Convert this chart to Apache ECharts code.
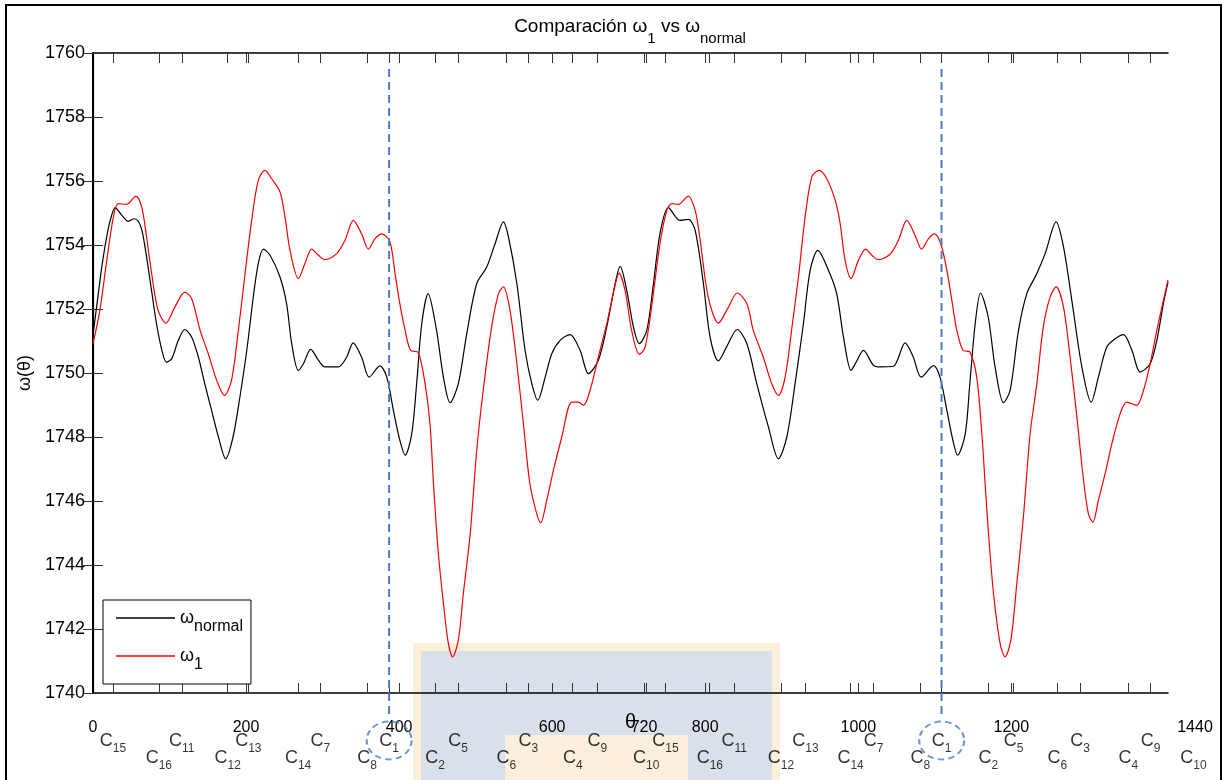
<!DOCTYPE html>
<html>
<head>
<meta charset="utf-8">
<title>Comparación ω1 vs ωnormal</title>
<script src="https://cdn.jsdelivr.net/npm/echarts@6.0.0/dist/echarts.min.js"></script>
<style>
  html, body { margin: 0; padding: 0; background: #fff; }
  #chart { width: 1225px; height: 780px; }
</style>
</head>
<body>
<div id="chart"></div>
<script>
  // ω normal (black)
  var normalTheta = [0, 6, 12, 19, 24, 29, 37, 46, 54, 59, 64, 70, 76.5, 83, 90, 96, 103, 111.5, 120, 129,
    137.7, 146, 155, 164, 173.4, 183, 192, 201, 209.5, 216, 222.7, 231.4, 244.4, 253, 259.7, 268.4, 275, 284.5, 294.6, 303,
    320.7, 331.6, 340, 351, 361, 375, 384, 392.6, 401, 408, 416.6, 423, 429.7, 438, 449, 458, 466.7, 477.5, 488.5, 501.5,
    514.6, 525.5, 536.4, 543, 554, 564.7, 573.5, 581.3, 591, 599.6, 610.5, 623.5, 636.6, 647.5, 660.5, 671.5, 682.4, 689, 697.6, 706.3,
    714, 723.8, 732.5, 741, 752, 767, 778, 787, 797.8, 806.5, 817.4, 828, 842, 854.5, 867.5, 882.8, 895.8, 906.8, 917.6, 928.5,
    937.3, 947.3, 961.2, 972, 980.8, 990.8, 997.4, 1007, 1020, 1028.8, 1046, 1061.4, 1072, 1082.4, 1098.5, 1107, 1116, 1123.8, 1130, 1140,
    1146, 1153, 1160, 1170, 1179, 1190, 1198.7, 1209.6, 1220.5, 1233.6, 1244.4, 1258.8, 1268.4, 1279.3, 1292.4, 1304.6, 1314, 1325, 1336, 1346.8,
    1357.8, 1368.6, 1381.7, 1390.4, 1399, 1405];
  var normalOmega = [1751.2, 1752.3, 1753.4, 1754.4, 1754.9, 1755.17, 1754.95, 1754.74, 1754.82, 1754.75, 1754.46, 1753.63, 1752.58, 1751.54, 1750.71, 1750.34, 1750.45, 1751.02, 1751.36, 1751.12,
    1750.5, 1749.67, 1748.83, 1748.0, 1747.32, 1748.0, 1749.25, 1750.71, 1752.38, 1753.42, 1753.87, 1753.68, 1753.0, 1752.17, 1750.92, 1750.08, 1750.29, 1750.74, 1750.4, 1750.19,
    1750.19, 1750.5, 1750.94, 1750.5, 1749.87, 1750.22, 1749.87, 1748.83, 1747.9, 1747.43, 1748.1, 1749.67, 1751.54, 1752.48, 1751.33, 1749.87, 1749.07, 1749.67, 1751.23, 1752.79,
    1753.31, 1754.04, 1754.72, 1754.25, 1752.79, 1750.71, 1749.67, 1749.15, 1749.87, 1750.6, 1751.02, 1751.2, 1750.71, 1749.98, 1750.4, 1751.44, 1752.79, 1753.33, 1752.58, 1751.44,
    1750.92, 1751.33, 1752.79, 1754.35, 1755.17, 1754.77, 1754.8, 1754.46, 1752.79, 1751.13, 1750.38, 1750.81, 1751.36, 1750.92, 1749.67, 1748.31, 1747.32, 1748.0, 1749.67, 1751.54,
    1753.21, 1753.83, 1753.21, 1752.48, 1751.13, 1750.08, 1750.34, 1750.71, 1750.24, 1750.19, 1750.21, 1750.94, 1750.5, 1749.87, 1750.23, 1749.87, 1748.83, 1747.9, 1747.43, 1748.1,
    1749.67, 1751.54, 1752.5, 1751.75, 1750.19, 1749.07, 1749.46, 1751.33, 1752.48, 1753.11, 1753.73, 1754.72, 1753.94, 1752.27, 1750.19, 1749.09, 1749.87, 1750.81, 1751.07, 1751.2,
    1750.71, 1750.03, 1750.29, 1751.02, 1752.17, 1752.84];

  // ω1 (red)
  var w1Theta = [0, 9, 18, 26.6, 33, 44, 56, 63.6, 70, 76.7, 85, 95.4, 107, 120, 129, 140, 150.7, 161.7, 171.7, 181,
    190, 198.7, 207.4, 216, 224.8, 233.6, 244.4, 251, 257.5, 268.4, 277, 285.8, 294.6, 303, 318.5, 329.4, 340.3, 351, 360, 368.6,
    377.4, 388, 394.8, 401, 408, 415, 425, 434, 440.5, 445, 451, 458, 464.5, 470, 477.5, 484, 493, 501.5, 510, 521,
    530, 536.4, 545, 554, 562.5, 571, 580, 585, 593, 601.7, 612.7, 625.7, 634.4, 641, 649.7, 660.5, 671.5, 680, 687.6, 695.4,
    704, 714, 721.6, 730, 741, 750, 756.5, 765, 778, 787, 793, 804, 817.4, 830.5, 842, 854.5, 863, 876, 887, 895.8,
    904.6, 913, 922, 930.7, 939.5, 949, 959, 970, 976.5, 983, 990.8, 1000.4, 1010, 1017.9, 1026.5, 1041.8, 1052.7, 1063.6, 1074.5, 1083,
    1092, 1099.8, 1108, 1116, 1122.5, 1129, 1137, 1146, 1155, 1161.7, 1166, 1170.4, 1177, 1185.6, 1192, 1199.6, 1207.4, 1216, 1224.8, 1233.6,
    1242, 1251, 1258.8, 1268.4, 1277, 1285.9, 1294.6, 1301, 1306.8, 1314, 1322.9, 1331.6, 1342.5, 1351, 1364, 1373, 1381.7, 1390.4, 1399, 1405];
  var w1Omega = [1750.92, 1751.96, 1753.52, 1754.87, 1755.29, 1755.27, 1755.53, 1755.19, 1754.25, 1753.1, 1751.96, 1751.56, 1752.06, 1752.53, 1752.32, 1751.33, 1750.6, 1749.77, 1749.3, 1749.77,
    1751.33, 1753.1, 1754.77, 1756.02, 1756.33, 1756.07, 1755.66, 1754.87, 1753.83, 1752.95, 1753.42, 1753.87, 1753.68, 1753.54, 1753.73, 1754.15, 1754.77, 1754.35, 1753.87, 1754.2,
    1754.35, 1754.1, 1753.1, 1752.17, 1751.33, 1750.71, 1750.64, 1749.67, 1748.4, 1746.54, 1744.46, 1742.8, 1741.54, 1741.13, 1741.65, 1743.1, 1744.98, 1747.58, 1749.46, 1751.44,
    1752.48, 1752.69, 1751.96, 1750.29, 1748.42, 1746.54, 1745.6, 1745.32, 1746.02, 1746.96, 1748.0, 1749.09, 1749.09, 1748.99, 1749.46, 1750.5, 1751.54, 1752.48, 1753.12, 1752.58,
    1751.33, 1750.58, 1750.81, 1752.06, 1754.04, 1755.08, 1755.29, 1755.27, 1755.53, 1755.08, 1754.25, 1752.38, 1751.56, 1752.06, 1752.5, 1752.17, 1751.33, 1750.5, 1749.67, 1749.3,
    1749.87, 1751.33, 1753.0, 1754.87, 1756.13, 1756.33, 1756.07, 1755.4, 1754.67, 1753.52, 1752.95, 1753.52, 1753.87, 1753.68, 1753.54, 1753.71, 1754.15, 1754.77, 1754.3, 1753.87,
    1754.2, 1754.35, 1754.04, 1753.21, 1752.27, 1751.33, 1750.71, 1750.66, 1749.87, 1748.1, 1746.54, 1744.98, 1743.1, 1741.54, 1741.13, 1741.65, 1743.42, 1745.5, 1748.1, 1749.67,
    1751.44, 1752.38, 1752.69, 1752.06, 1750.5, 1748.63, 1746.65, 1745.6, 1745.34, 1746.02, 1746.86, 1747.79, 1748.73, 1749.09, 1748.99, 1749.46, 1750.29, 1751.33, 1752.27, 1752.9];

  // firing order and firing angles (deg)
  var cylinders = [15, 16, 11, 12, 13, 14, 7, 8, 1, 2, 5, 6, 3, 4, 9, 10,
    15, 16, 11, 12, 13, 14, 7, 8, 1, 2, 5, 6, 3, 4, 9, 10];
  var firingAngles = [26, 86, 116, 176, 203, 268, 297, 358, 387, 447, 477, 540, 569, 627, 659, 723,
    748, 806, 838, 899, 931, 990, 1020, 1081, 1109, 1170, 1203, 1260, 1290, 1353, 1382, 1438];

  // x tick labels and the visible x range
  var tickLabels = [0, 200, 400, 600, 720, 800, 1000, 1200, 1440];
  var thetaMax = 1405;

  var FONT = "'Liberation Sans', Arial, sans-serif";
  var BLUE = '#4a7dbd';

  var pairs = function (xs, ys) {
    return xs.map(function (x, i) { return [x, ys[i]]; });
  };
  var plain = function (v) { return String(v); };

  // small marks on the top and bottom edges: firings + round labels
  var xTicks = firingAngles.filter(function (a) { return a < thetaMax; })
    .concat(tickLabels.filter(function (v) { return v > 0 && v < thetaMax; }));

  var c1Angles = firingAngles.filter(function (a, i) { return cylinders[i] === 1; });

  var cylLabels = firingAngles.map(function (a, i) {
    return {
      value: [a, cylinders[i] % 2 === 1 ? 41 : 58],
      label: { formatter: '{c|C}{s|' + cylinders[i] + '}' }
    };
  });

  var tickStyle = { lineStyle: { color: '#333', width: 1 } };

  var chart = echarts.init(document.getElementById('chart'));

  var series = [
    {
      name: 'ωnormal',
      type: 'line',
      data: pairs(normalTheta, normalOmega),
      symbol: 'none',
      smooth: 0.3,
      lineStyle: { color: '#000', width: 1.2 },
      itemStyle: { color: '#000' },
      z: 3
    },
    {
      name: 'ω1',
      type: 'line',
      data: pairs(w1Theta, w1Omega),
      symbol: 'none',
      smooth: 0.3,
      lineStyle: { color: '#ff0000', width: 1.2 },
      itemStyle: { color: '#ff0000' },
      z: 4
    },
    {
      type: 'scatter',
      xAxisIndex: 3,
      yAxisIndex: 3,
      data: cylLabels,
      symbolSize: 1,
      itemStyle: { color: 'rgba(0,0,0,0)' },
      label: {
        show: true,
        position: 'inside',
        align: 'center',
        verticalAlign: 'middle',
        color: '#000',
        fontFamily: FONT,
        rich: {
          c: { fontSize: 18, lineHeight: 18, verticalAlign: 'top', fontFamily: FONT, color: '#000' },
          s: { fontSize: 12, lineHeight: 12, padding: [11, 0, 0, 0], verticalAlign: 'top', fontFamily: FONT, color: '#000' }
        }
      },
      silent: true
    },
    {
      type: 'scatter',
      xAxisIndex: 3,
      yAxisIndex: 3,
      data: c1Angles.map(function (a) { return [a, 40.5]; }),
      symbol: 'circle',
      symbolSize: [45, 38],
      itemStyle: { color: 'rgba(0,0,0,0)', borderColor: BLUE, borderWidth: 2, borderType: [6, 4] },
      silent: true,
      z: 5
    }
  ];

  // dashed markers at the C1 firings
  c1Angles.forEach(function (a) {
    series.push({
      type: 'line',
      data: [[a, 1759.5], [a, 1739.3]],
      symbol: 'none',
      clip: false,
      lineStyle: { color: BLUE, width: 2, type: [8, 5] },
      silent: true,
      z: 5
    });
  });

  chart.setOption({
    animation: false,
    backgroundColor: '#fff',
    textStyle: { fontFamily: FONT },
    title: {
      text: '{t|Comparación }{w|ω}{s|1}{t| vs }{w|ω}{s|normal}',
      left: 630,
      top: 17,
      padding: 0,
      textAlign: 'center',
      textStyle: {
        fontWeight: 'normal',
        rich: {
          t: { fontSize: 19, lineHeight: 19, verticalAlign: 'top', color: '#000', fontFamily: FONT, fontWeight: 'normal' },
          w: { fontSize: 19, lineHeight: 19, verticalAlign: 'top', color: '#000', fontFamily: FONT, fontWeight: 'normal' },
          s: { fontSize: 15, lineHeight: 15, padding: [14, 0, 0, 0], verticalAlign: 'top', color: '#000', fontFamily: FONT, fontWeight: 'normal' }
        }
      }
    },
    legend: {
      data: ['ωnormal', 'ω1'],
      orient: 'vertical',
      left: 103,
      top: 600,
      padding: [9, 8, 11, 13],
      icon: 'rect',
      itemWidth: 59,
      itemHeight: 1.3,
      itemGap: 12,
      backgroundColor: '#fff',
      borderColor: '#000',
      borderWidth: 1,
      borderRadius: 0,
      formatter: function (name) {
        return name === 'ωnormal' ? '{w|ω}{s|normal}' : '{w|ω}{s|1}';
      },
      textStyle: {
        rich: {
          w: { fontSize: 18, lineHeight: 18, verticalAlign: 'top', color: '#000', fontFamily: FONT },
          s: { fontSize: 16, lineHeight: 16, padding: [10, 0, 0, 0], verticalAlign: 'top', color: '#000', fontFamily: FONT }
        }
      }
    },
    grid: [
      { left: 93, right: 57, top: 53, bottom: 87 },
      { left: 93, right: 30, top: 700, height: 15 },
      { left: 93, right: 30, top: 700, bottom: 0 }
    ],
    xAxis: [
      {
        gridIndex: 0, type: 'value', min: 0, max: thetaMax, position: 'bottom',
        axisLine: { lineStyle: { color: '#000', width: 1.5 } },
        axisTick: Object.assign({ customValues: xTicks, inside: true, length: 10 }, tickStyle),
        axisLabel: { show: false },
        splitLine: { show: false },
        name: 'θ',
        nameLocation: 'middle',
        nameGap: 19,
        nameTextStyle: { fontSize: 20, color: '#000', fontFamily: FONT }
      },
      {
        gridIndex: 0, type: 'value', min: 0, max: thetaMax, position: 'top',
        axisLine: { lineStyle: { color: '#000', width: 1.5 } },
        axisTick: Object.assign({ customValues: xTicks, inside: true, length: 10 }, tickStyle),
        axisLabel: { show: false },
        splitLine: { show: false }
      },
      {
        gridIndex: 1, type: 'value', min: 0, max: 1440,
        axisLine: { show: false },
        axisTick: { show: false },
        axisLabel: { customValues: tickLabels, formatter: plain, fontSize: 16, color: '#000', margin: 5, fontFamily: FONT },
        splitLine: { show: false }
      },
      { gridIndex: 2, type: 'value', min: 0, max: 1440, show: false }
    ],
    yAxis: [
      {
        gridIndex: 0, type: 'value', min: 1740, max: 1760, interval: 2,
        axisLine: { show: true, lineStyle: { color: '#000', width: 2 } },
        axisTick: Object.assign({ inside: true, length: 10 }, tickStyle),
        axisLabel: { formatter: plain, fontSize: 18, color: '#000', margin: 8, fontFamily: FONT },
        splitLine: { show: false },
        name: 'ω(θ)',
        nameLocation: 'middle',
        nameGap: 56,
        nameTextStyle: { fontSize: 18, color: '#000', fontFamily: FONT }
      },
      {
        gridIndex: 0, type: 'value', min: 1740, max: 1760, interval: 2, position: 'right',
        axisLine: { show: true, lineStyle: { color: '#000', width: 1.2 } },
        axisTick: Object.assign({ inside: true, length: 10 }, tickStyle),
        axisLabel: { show: false },
        splitLine: { show: false }
      },
      { gridIndex: 1, type: 'value', min: 0, max: 1, show: false },
      { gridIndex: 2, type: 'value', min: 0, max: 80, inverse: true, show: false }
    ],
    graphic: [
      // faint watermark behind the lower middle of the figure
      { type: 'rect', z: -10, shape: { x: 413, y: 643, width: 367, height: 140 }, style: { fill: '#fdf0db' }, silent: true },
      { type: 'rect', z: -9, shape: { x: 421, y: 651, width: 351, height: 132 }, style: { fill: '#d9e0ea' }, silent: true },
      { type: 'rect', z: -8, shape: { x: 505, y: 735, width: 183, height: 48 }, style: { fill: '#fcefdc' }, silent: true },
      // figure frame
      { type: 'rect', z: 100, shape: { x: 6, y: 5, width: 1215, height: 790 }, style: { fill: 'none', stroke: '#000', lineWidth: 2 }, silent: true }
    ],
    series: series
  });
</script>
</body>
</html>
